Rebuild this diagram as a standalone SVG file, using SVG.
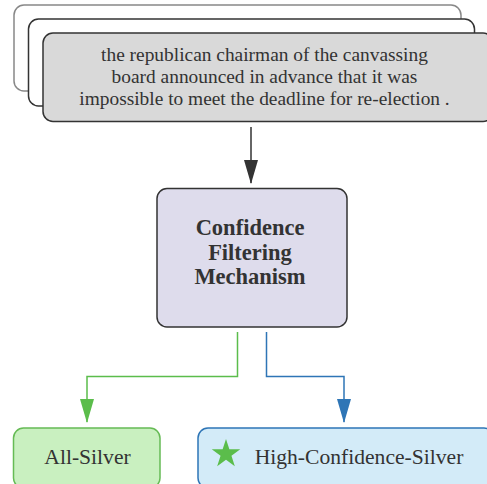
<svg xmlns="http://www.w3.org/2000/svg" width="487" height="484" viewBox="0 0 487 484">
<style>
.in{font-family:'Liberation Serif',serif;font-size:19.4px;fill:#333;text-anchor:middle}
.mech{font-family:'Liberation Serif',serif;font-size:22.5px;font-weight:bold;fill:#333;text-anchor:middle}
.out{font-family:'Liberation Serif',serif;font-size:21.6px;fill:#333;text-anchor:middle}
</style>
<defs>
<marker id="ab" markerWidth="14" markerHeight="24" refX="7" refY="23" markerUnits="userSpaceOnUse" viewBox="0 0 14 24"><path d="M0,0 L14,0 L7,24 Z" fill="#333"/></marker>
<marker id="ag" markerWidth="14" markerHeight="24" refX="7" refY="23" markerUnits="userSpaceOnUse" viewBox="0 0 14 24"><path d="M0,0 L14,0 L7,24 Z" fill="#5bbd4b"/></marker>
<marker id="abl" markerWidth="14" markerHeight="24" refX="7" refY="23" markerUnits="userSpaceOnUse" viewBox="0 0 14 24"><path d="M0,0 L14,0 L7,24 Z" fill="#2e75b6"/></marker>
</defs>
<rect width="487" height="484" fill="#fff"/>
<g id="input">
<rect x="14" y="5" width="447" height="86" rx="10" fill="#fff" stroke="#888" stroke-width="1.5"/>
<rect x="28.5" y="19" width="446" height="87" rx="10" fill="#fff" stroke="#333" stroke-width="1.5"/>
<rect x="43" y="33" width="450" height="88.5" rx="10" fill="#d9d9d9" stroke="#333" stroke-width="1.5"/>
<text class="in" x="264.5" y="61">the republican chairman of the canvassing</text>
<text class="in" x="264.5" y="83">board announced in advance that it was</text>
<text class="in" x="264.5" y="105">impossible to meet the deadline for re-election .</text>
</g>
<g id="mechanism">
<rect x="157" y="188.5" width="190" height="138.5" rx="10" fill="#dedcec" stroke="#333" stroke-width="1.5"/>
<text class="mech" x="250" y="235">Confidence</text>
<text class="mech" x="250" y="259.5">Filtering</text>
<text class="mech" x="250" y="284">Mechanism</text>
</g>
<g id="all-silver">
<rect x="13.5" y="428" width="146.5" height="60" rx="10" fill="#c9f0c0" stroke="#66bb55" stroke-width="1.5"/>
<text class="out" x="87.5" y="464">All-Silver</text>
</g>
<g id="high-confidence-silver">
<rect x="198" y="428" width="296" height="60" rx="10" fill="#d3ebf8" stroke="#2e75b6" stroke-width="1.5"/>
<polygon points="226,439 229.37,449.36 240.27,449.36 231.45,455.77 234.82,466.14 226,459.73 217.18,466.14 220.55,455.77 211.73,449.36 222.63,449.36" fill="#5bbd4b"/>
<text class="out" x="359" y="464">High-Confidence-Silver</text>
</g>
<g id="connectors" fill="none" stroke-width="1.5">
<path d="M251,127 L251,183" stroke="#333" marker-end="url(#ab)"/>
<path d="M237.5,332 L237.5,376.5 L87,376.5 L87,422" stroke="#5bbd4b" marker-end="url(#ag)"/>
<path d="M266.5,332 L266.5,376.5 L344,376.5 L344,422" stroke="#2e75b6" marker-end="url(#abl)"/>
</g>
</svg>
